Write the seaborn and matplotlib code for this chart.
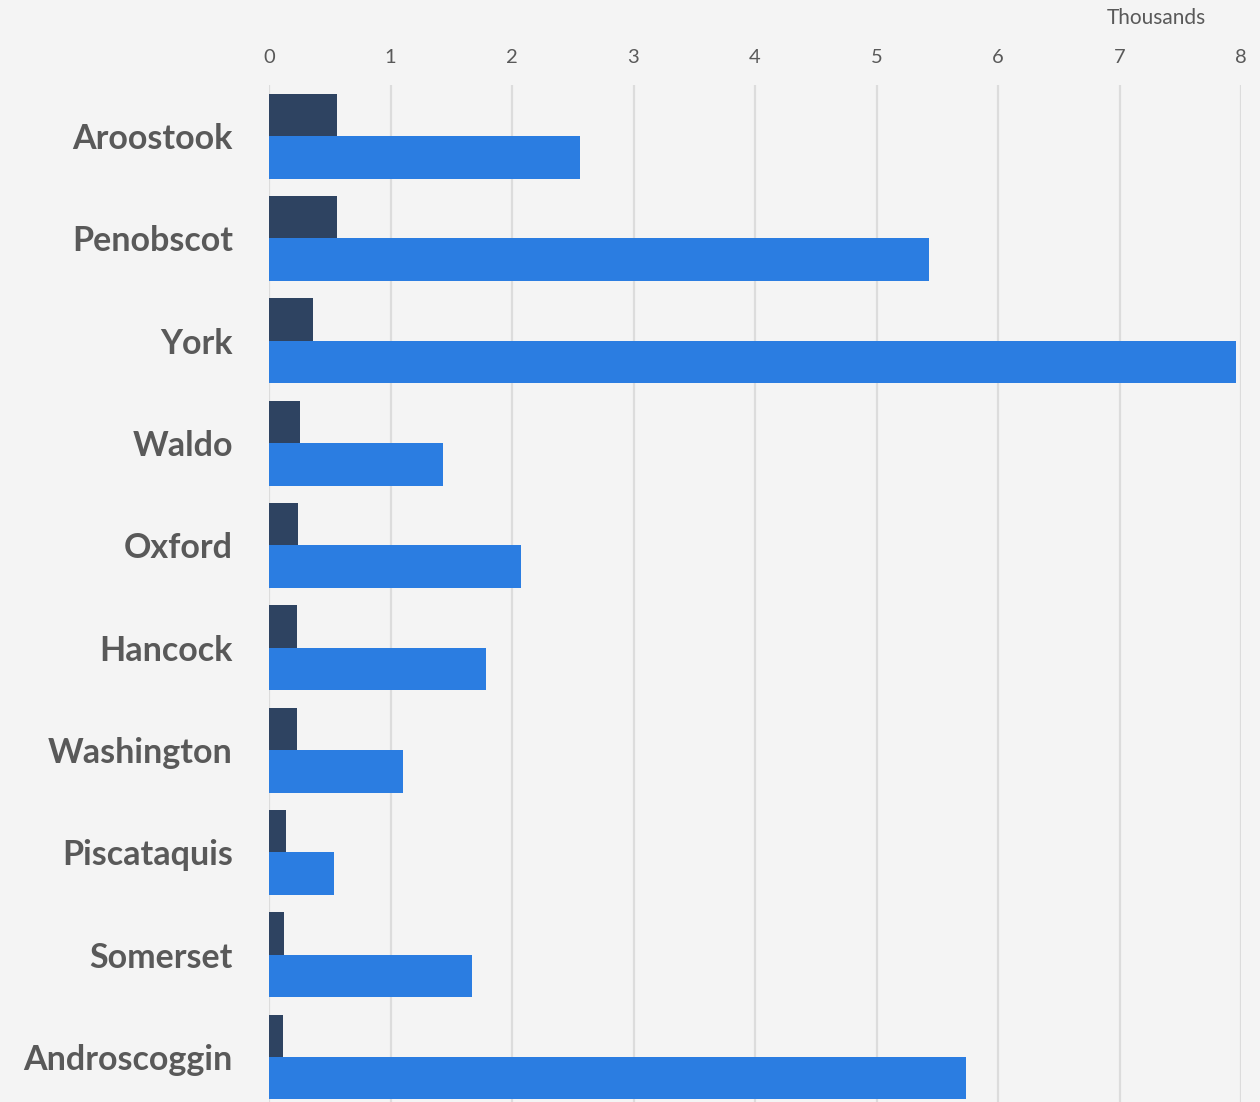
import matplotlib
matplotlib.use("Agg")
import matplotlib.pyplot as plt
import seaborn as sns
import pandas as pd

# County totals, in thousands
counties = ["Aroostook", "Penobscot", "York", "Waldo", "Oxford",
            "Hancock", "Washington", "Piscataquis", "Somerset", "Androscoggin"]
series_names = ["Series 1", "Series 2"]
series_1 = [0.56, 0.56, 0.36, 0.255, 0.24, 0.23, 0.23, 0.14, 0.12, 0.115]
series_2 = [2.56, 5.43, 7.96, 1.43, 2.07, 1.79, 1.10, 0.535, 1.67, 5.74]
x_ticks = [0, 1, 2, 3, 4, 5, 6, 7, 8]

df = pd.DataFrame({
    "county": counties * 2,
    "series": [series_names[0]] * len(counties) + [series_names[1]] * len(counties),
    "value": series_1 + series_2,
})

bg = "#f4f4f4"
text_col = "#595959"
sns.set_theme(style="white")
plt.rcParams["font.family"] = ["Lato", "DejaVu Sans"]

fig = plt.figure(figsize=(12.6, 11.02), dpi=100, facecolor=bg)
ax = fig.add_axes([269 / 1260, 0.0, (1241 - 269) / 1260, 1 - 85 / 1102])
ax.set_facecolor(bg)

sns.barplot(data=df, y="county", x="value", hue="series", order=counties,
            hue_order=series_names, palette=["#2e4361", "#2b7de1"],
            saturation=1, orient="h", width=0.83, gap=0, dodge=True,
            legend=False, edgecolor="none", linewidth=0, ax=ax, zorder=3)

ax.set_xlim(0, 8)
ax.set_ylim(9.44, -0.5)
ax.set_xticks(x_ticks)
ax.set_xticklabels([str(t) for t in x_ticks])
ax.xaxis.tick_top()
ax.tick_params(axis="x", length=0, pad=14, labelsize=14.5, labelcolor=text_col)
ax.tick_params(axis="y", length=0, pad=26, labelsize=24.5, labelcolor=text_col)
for lbl in ax.get_yticklabels():
    lbl.set_fontweight("bold")
ax.set_xlabel("")
ax.set_ylabel("")
ax.grid(axis="x", color="#dcdcdc", linewidth=1.6, zorder=0)
ax.set_axisbelow(True)
for s in ax.spines.values():
    s.set_visible(False)

fig.text(1206 / 1260, 1 - 18 / 1102, "Thousands", ha="right", va="center",
         fontsize=15, color=text_col)

fig.savefig("out.png", dpi=100, facecolor=bg)
